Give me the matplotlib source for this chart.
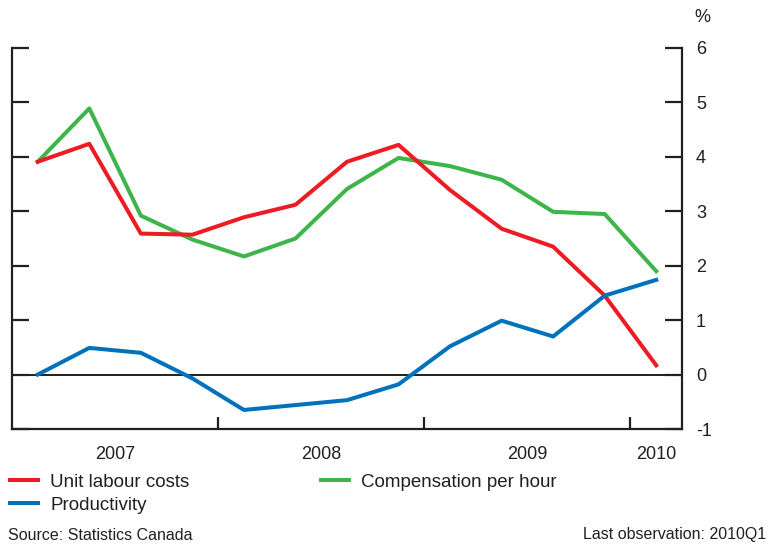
import matplotlib.pyplot as plt
from matplotlib.ticker import FixedLocator

plt.rcParams['font.family'] = ['Liberation Sans', 'DejaVu Sans']
plt.rcParams['axes.unicode_minus'] = False

# Trimestres 2007Q1 - 2010Q1
trimestres = ['2007Q1', '2007Q2', '2007Q3', '2007Q4',
              '2008Q1', '2008Q2', '2008Q3', '2008Q4',
              '2009Q1', '2009Q2', '2009Q3', '2009Q4',
              '2010Q1']
unit_labour = [3.91, 4.24, 2.59, 2.57, 2.89, 3.12, 3.91, 4.22, 3.39, 2.68, 2.35, 1.45, 0.17]
compensation = [3.91, 4.89, 2.92, 2.48, 2.17, 2.50, 3.41, 3.98, 3.83, 3.58, 2.99, 2.95, 1.90]
productivity = [0.00, 0.49, 0.40, -0.07, -0.65, -0.56, -0.47, -0.18, 0.52, 0.99, 0.70, 1.45, 1.74]
year_labels = ['2007', '2008', '2009', '2010']
y_ticks = [-1, 0, 1, 2, 3, 4, 5, 6]

# posicion: centro de cada trimestre
x = [int(t[:4]) + (int(t[-1]) - 0.5) / 4 for t in trimestres]

RED = '#ed1c24'
GREEN = '#3db54a'
BLUE = '#0072bc'

fig = plt.figure(figsize=(7.68, 5.46), dpi=100)
ax = fig.add_axes([12 / 768, 1 - 429 / 546, 670 / 768, 381 / 546])

ax.axhline(0, color='#231f20', lw=1.4, zorder=1)
l1, = ax.plot(x, unit_labour, color=RED, lw=2.9, label='Unit labour costs', zorder=3)
l3, = ax.plot(x, compensation, color=GREEN, lw=2.9, label='Compensation per hour', zorder=2)
l2, = ax.plot(x, productivity, color=BLUE, lw=2.9, label='Productivity', zorder=3)

ax.set_xlim(2007.0, 2010.25)
ax.set_ylim(-1, 6)

for s in ['left', 'right', 'bottom']:
    ax.spines[s].set_linewidth(1.6)
    ax.spines[s].set_color('#231f20')
ax.spines['top'].set_visible(False)

# eje y a la derecha, ticks hacia dentro en ambos lados
ax.set_yticks(y_ticks)
ax.yaxis.set_ticks_position('both')
ax.tick_params(axis='y', direction='in', length=12, width=1.6, color='#231f20',
               labelleft=False, labelright=True, labelsize=13, pad=10,
               labelcolor='#231f20')

# eje x: marcas en los limites de cada año, etiquetas en el centro
ax.xaxis.set_major_locator(FixedLocator([2008, 2009, 2010]))
ax.xaxis.set_minor_locator(FixedLocator([2007.5, 2008.5, 2009.5, 2010.125]))
ax.set_xticklabels([], minor=False)
ax.set_xticklabels(year_labels, minor=True)
ax.tick_params(axis='x', which='major', direction='in', length=9, width=1.6, color='#231f20')
ax.tick_params(axis='x', which='minor', length=0, labelsize=13, pad=12, labelcolor='#231f20')

fig.text(702 / 768, 1 - 17 / 546, '%', ha='center', va='center', fontsize=13, color='#231f20')

fig.legend(handles=[l1, l2, l3], loc='upper left', bbox_to_anchor=(8 / 768, 1 - 472 / 546),
           ncol=2, frameon=False, fontsize=13.5, handlelength=1.5, handletextpad=0.64,
           columnspacing=7.0, labelspacing=0.3, borderaxespad=0, borderpad=0.1,
           labelcolor='#231f20')

fig.text(8 / 768, 1 - 535 / 546, 'Source: Statistics Canada', ha='left', va='center',
         fontsize=11.5, color='#231f20', family=['Liberation Sans Narrow', 'Liberation Sans'])
fig.text(766 / 768, 1 - 535 / 546, 'Last observation: 2010Q1', ha='right', va='center',
         fontsize=11.5, color='#231f20', family=['Liberation Sans Narrow', 'Liberation Sans'])

plt.savefig('out.png', dpi=100)
